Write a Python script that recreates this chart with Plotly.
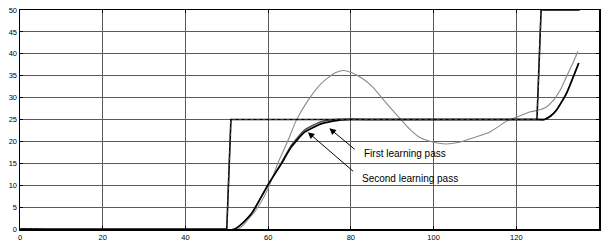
import plotly.graph_objects as go

# Reference (step) trajectory
ref_x = [0, 50, 51, 125, 126, 135.3]
ref_y = [0, 0, 25, 25, 50, 50]

# Initial response (grey)
grey_x = [0, 52.7, 55, 57.5, 60.1, 62.3, 64.8, 66.8, 69.6, 72.8, 76.1, 78.1, 80, 82.9, 85.3,
          87.7, 90.1, 92.1, 94.1, 96.5, 100, 103, 106.2, 110.2, 113.5, 118, 120, 123.2, 125.2,
          127.2, 128.9, 130.5, 132.1, 133.5, 134.9]
grey_y = [0, 0, 2.0, 4.9, 9.5, 14.9, 20.2, 24.8, 29.3, 33.2, 35.6, 36.2, 35.8, 34.3, 32.4,
          29.7, 27.1, 25, 22.9, 21.0, 19.8, 19.4, 19.8, 21.0, 22.1, 24.8, 25.5, 26.7, 27.1,
          27.8, 29.3, 31.5, 34.7, 37.5, 40.6]

# First learning pass
first_x = [0, 51.9, 55.9, 60.1, 63.2, 65.6, 68.8, 72.8, 76.9, 80, 84, 95, 105, 115, 124,
           126.8, 128.3, 129.7, 132.1, 135.1]
first_y = [0, 0, 3.4, 10.3, 15.1, 19.1, 22.6, 24.5, 25.05, 25.1, 25, 25, 25, 25, 25,
           25, 25.8, 27.1, 30.9, 37.9]

# Second learning pass
second_x = [0, 51.9, 55.9, 60.1, 63.2, 65.6, 68.8, 72.8, 76.9, 80, 84, 95, 105, 115, 124,
            126.8, 128.3, 129.7, 132.1, 135.1]
second_y = [0, 0, 3.4, 10.3, 14.9, 18.7, 22.1, 24.0, 24.8, 25, 25, 25, 25, 25, 25,
            25, 25.8, 27.1, 30.9, 37.9]

x_ticks = [0, 20, 40, 60, 80, 100, 120, 140]
y_ticks = [0, 5, 10, 15, 20, 25, 30, 35, 40, 45, 50]

labels = ["First learning pass", "Second learning pass"]
label_pos = [(82.6, 17.2), (82.1, 11.5)]
arrow_tail = [(81.3, 17.9), (80.9, 12.9)]
arrow_head = [(74.8, 23.0), (69.6, 22.1)]

FONT = "Arial, Liberation Sans, sans-serif"

fig = go.Figure()
fig.add_trace(go.Scatter(x=grey_x, y=grey_y, mode="lines",
                         line=dict(color="#8a8a8a", width=1.1, shape="spline", smoothing=0.6)))
fig.add_trace(go.Scatter(x=first_x, y=first_y, mode="lines",
                         line=dict(color="#555555", width=1.6, shape="spline", smoothing=0.5)))
fig.add_trace(go.Scatter(x=second_x, y=second_y, mode="lines",
                         line=dict(color="black", width=1.6, shape="spline", smoothing=0.5)))
fig.add_trace(go.Scatter(x=ref_x, y=ref_y, mode="lines",
                         line=dict(color="black", width=1.6)))
fig.add_trace(go.Scatter(x=ref_x, y=ref_y, mode="lines",
                         line=dict(color="#444444", width=1.2, dash="dot")))

for (txt, (tx, ty), (ax_, ay_), (hx, hy)) in zip(labels, label_pos, arrow_tail, arrow_head):
    fig.add_annotation(x=tx, y=ty, text=txt, showarrow=False, xanchor="left", yanchor="middle",
                       font=dict(family=FONT, size=10, color="black"))
    fig.add_annotation(x=hx, y=hy, ax=ax_, ay=ay_, axref="x", ayref="y", xref="x", yref="y",
                       text="", showarrow=True, arrowhead=2, arrowsize=1.3, arrowwidth=1,
                       arrowcolor="black")

axis_common = dict(showline=True, linecolor="black", linewidth=1.5, mirror="ticks",
                   ticks="inside", ticklen=3, tickcolor="black", automargin=False,
                   showgrid=True, gridcolor="#5a5a5a", gridwidth=1, zeroline=False,
                   tickfont=dict(family=FONT, size=7.5, color="black"))

fig.update_xaxes(range=[0, 140], tickvals=x_ticks, ticktext=[str(v) for v in x_ticks], **axis_common)
fig.update_yaxes(range=[0, 50], tickvals=y_ticks, ticktext=[str(v) for v in y_ticks], **axis_common)

fig.update_layout(width=605, height=242, showlegend=False,
                  margin=dict(l=20, r=6, t=10, b=13, autoexpand=False),
                  plot_bgcolor="white", paper_bgcolor="white")

fig.write_html("out.html",
               config={"displayModeBar": False, "staticPlot": True},
               post_script="document.body.style.margin='0';document.body.style.padding='0';"
                           "document.body.style.overflow='hidden';")
